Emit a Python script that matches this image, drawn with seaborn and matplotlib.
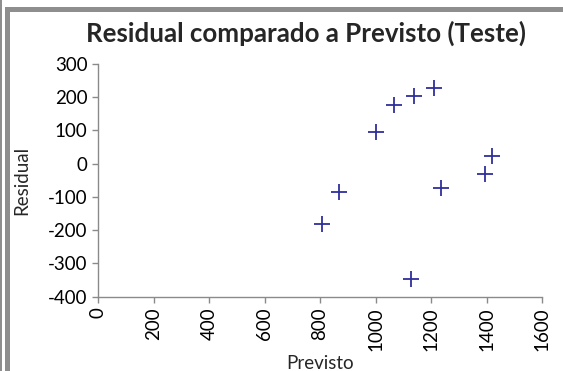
import matplotlib
matplotlib.use("Agg")
import matplotlib.pyplot as plt
from matplotlib.patches import Rectangle
import seaborn as sns
import pandas as pd

# Test-set predictions and their residuals
previsto = [806, 868, 1000, 1066, 1140, 1211, 1420, 1395, 1236, 1127]
residual = [-182, -86, 96, 176, 205, 227, 24, -31, -73, -346]

x_ticks = [0, 200, 400, 600, 800, 1000, 1200, 1400, 1600]
y_ticks = [-400, -300, -200, -100, 0, 100, 200, 300]

df = pd.DataFrame({"Previsto": previsto, "Residual": residual})

sns.set_theme(style="white")
plt.rcParams["font.family"] = ["Lato", "DejaVu Sans"]

fig = plt.figure(figsize=(5.63, 3.71), dpi=100)
ax = fig.add_axes([98 / 563, 1 - 296.7 / 371, 444 / 563, 232.7 / 371])

sns.scatterplot(data=df, x="Previsto", y="Residual", marker="+", s=130,
                color="#2f2f9c", linewidth=1.3, ax=ax)

ax.set_xlim(0, 1600)
ax.set_ylim(-400, 300)
ax.set_xticks(x_ticks)
ax.set_yticks(y_ticks)
ax.set_xticklabels([str(v) for v in x_ticks], rotation=90, fontsize=13.5)
ax.set_yticklabels([str(v) for v in y_ticks], fontsize=13.5)

for side in ("top", "right"):
    ax.spines[side].set_visible(False)
for side in ("left", "bottom"):
    ax.spines[side].set_color("#8a8a8a")
    ax.spines[side].set_linewidth(1.0)
ax.tick_params(axis="both", direction="out", length=4.5, width=1.0,
               color="#8a8a8a", pad=3, labelcolor="black")
ax.tick_params(axis="x", bottom=True)
ax.tick_params(axis="y", left=True)

ax.set_xlabel("Previsto", fontsize=13.5, labelpad=3)
ax.set_ylabel("Residual", fontsize=13.5, labelpad=13)

fig.text(306 / 563, 1 - 33 / 371, "Residual comparado a Previsto (Teste)",
         ha="center", va="center", fontsize=18.6, fontweight="bold")

# Chart frame
gray = "#8e8e8e"
fig.patches.append(Rectangle((0, 0), 2 / 563, 1, transform=fig.transFigure,
                             facecolor=gray, edgecolor="none"))
fig.patches.append(Rectangle((5 / 563, 0), 5 / 563, 1 - 7 / 371,
                             transform=fig.transFigure, facecolor=gray,
                             edgecolor="none"))
fig.patches.append(Rectangle((5 / 563, 1 - 12 / 371), 1, 5 / 371,
                             transform=fig.transFigure, facecolor=gray,
                             edgecolor="none"))

fig.savefig("out.png", dpi=100)
